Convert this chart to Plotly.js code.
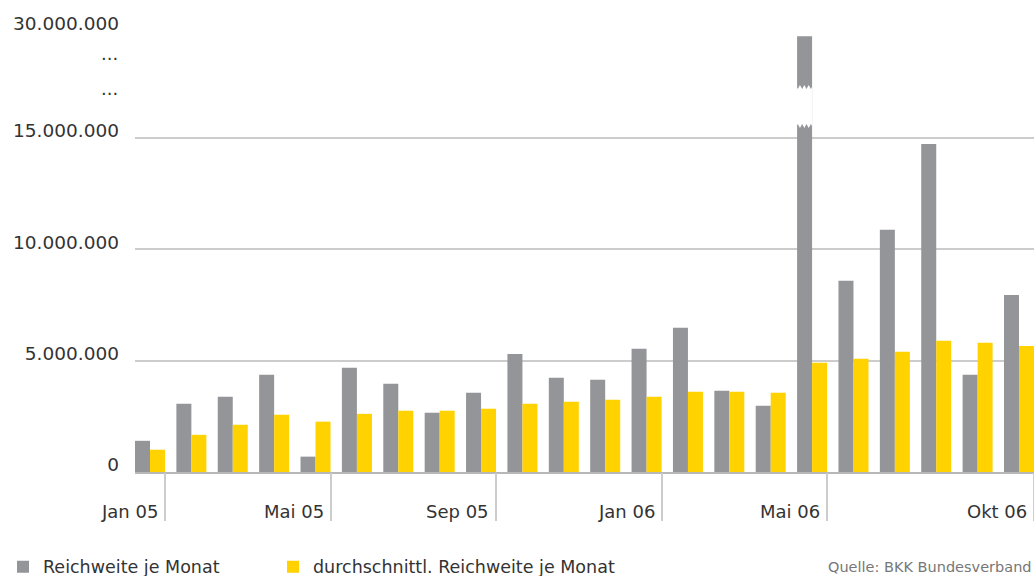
<!DOCTYPE html>
<html>
<head>
<meta charset="utf-8">
<script src="https://cdn.plot.ly/plotly-3.0.1.min.js"></script>
<style>html,body{margin:0;padding:0;background:#fff;}#chart{width:1034px;height:576px;}</style>
</head>
<body>
<div id="chart"></div>
<script>
// ---- data ----
const months = ['Jan 05','Feb 05','Mär 05','Apr 05','Mai 05','Jun 05','Jul 05','Aug 05','Sep 05','Okt 05','Nov 05','Dez 05',
                'Jan 06','Feb 06','Mär 06','Apr 06','Mai 06','Jun 06','Jul 06','Aug 06','Sep 06','Okt 06'];
const reach = [1400000,3060000,3380000,4370000,690000,4680000,3960000,2660000,3560000,5300000,4230000,4140000,
               5530000,6470000,3650000,2970000,29200000,8580000,10870000,14720000,4360000,7950000];
const avgReach = [1000000,1670000,2120000,2570000,2260000,2610000,2750000,2750000,2840000,3060000,3150000,3240000,
                  3380000,3600000,3600000,3560000,4900000,5080000,5400000,5890000,5800000,5660000];
const xTickMonths = ['Jan 05','Mai 05','Sep 05','Jan 06','Mai 06','Okt 06'];
const yTickValues = [0,5000000,10000000,15000000,30000000];
const yTickLabels = ['0','5.000.000','10.000.000','15.000.000','30.000.000'];
const breakLabelValues = [17050000, 18620000];   // positions (display scale) of the "..." marks
const seriesNames = ['Reichweite je Monat','durchschnittl. Reichweite je Monat'];
const sourceText = 'Quelle: BKK Bundesverband';

// ---- broken axis: values above 15 Mio compressed ----
const BREAK = 15000000, TOPV = 30000000, TOPD = 19820000, YMAX = 19840000;
function disp(v){ return v <= BREAK ? v : BREAK + (v - BREAK) * (TOPD - BREAK) / (TOPV - BREAK); }

const GW = 0.725;           // group width in category units
const H = GW / 2;
const FONT = 'DejaVu Sans';
const TXT = '#333333';

const traces = [
  {type:'bar', name:seriesNames[0], x:months, y:reach.map(disp), customdata:reach,
   marker:{color:'#939598'}, hoverinfo:'skip', legend:'legend'},
  {type:'bar', name:seriesNames[1], x:months, y:avgReach.map(disp), customdata:avgReach,
   marker:{color:'#FFD200'}, hoverinfo:'skip', legend:'legend2'}
];

const tickPos = xTickMonths.map(m => months.indexOf(m) + H);

// break marker on the broken bar
const bi = reach.findIndex(v => v > BREAK);
const b0 = 15530000, b1 = 17280000, amp = 90000;
const xl = bi - H - 0.01, xr = bi - 0.003;
let p = 'M' + xl + ',' + b0;
const n = 7;
for (let k = 1; k <= n; k++) {
  const xx = xl + (xr - xl) * k / n;
  p += ' L' + (xx - (xr - xl) / (2*n)) + ',' + (b0 + (k % 2 ? amp : -amp)) + ' L' + xx + ',' + b0;
}
p += ' L' + xr + ',' + b1;
for (let k = n - 1; k >= 0; k--) {
  const xx = xl + (xr - xl) * k / n;
  p += ' L' + (xx + (xr - xl) / (2*n)) + ',' + (b1 + (k % 2 ? amp : -amp)) + ' L' + xx + ',' + b1;
}
p += ' Z';

const annotations = xTickMonths.map((m, i) => ({
  xref:'x2', yref:'paper', x:tickPos[i], y:0, xanchor:'right', yanchor:'top',
  xshift:-5, yshift:-27, text:m, showarrow:false, font:{family:FONT, size:18, color:TXT}
}));
breakLabelValues.forEach(v => annotations.push({
  xref:'paper', yref:'y', x:0, y:v, xanchor:'right', yanchor:'middle', xshift:-15, yshift:4,
  text:'...', showarrow:false, font:{family:FONT, size:18, color:TXT}
}));
annotations.push({xref:'paper', yref:'paper', x:1, y:-0.214, xanchor:'right', yanchor:'middle',
  text:sourceText, showarrow:false, font:{family:FONT, size:14.5, color:'#777777'}});

const legendBase = {orientation:'h', xref:'container', yref:'container', y:0.016, xanchor:'left', yanchor:'middle',
          font:{family:FONT, size:17.5, color:TXT}, bgcolor:'rgba(0,0,0,0)'};

const layout = {
  width:1034, height:576,
  margin:{l:135, r:0, t:30, b:104},
  paper_bgcolor:'#fff', plot_bgcolor:'#fff',
  barmode:'group', bargap:1 - GW, bargroupgap:0,
  font:{family:FONT, color:TXT},
  showlegend:true,
  legend:Object.assign({}, legendBase, {x:3/1034}),
  legend2:Object.assign({}, legendBase, {x:273/1034}),
  xaxis:{type:'category', range:[-H, months.length - 1 + H], showticklabels:false, ticks:'',
         showgrid:false, zeroline:false, showline:true, linecolor:'#b8b8b8', linewidth:2},
  xaxis2:{overlaying:'x', anchor:'y', side:'bottom', range:[-H, months.length - 1 + H],
          tickmode:'array', tickvals:tickPos, ticks:'outside', ticklen:48, tickwidth:2, tickcolor:'#cccccc',
          showticklabels:false, showgrid:false, zeroline:false, showline:false},
  yaxis:{range:[0, YMAX], tickmode:'array', tickvals:yTickValues.map(disp), ticktext:yTickLabels,
         showgrid:true, gridcolor:'#cccccc', gridwidth:2, zeroline:false, ticks:'',
         ticklabelstandoff:15, ticklabelshift:-7, tickfont:{family:FONT, size:18.5, color:TXT}},
  shapes:[{type:'path', xref:'x2', yref:'y', path:p, fillcolor:'#ffffff', line:{width:0}}],
  annotations:annotations
};

Plotly.newPlot('chart', traces, layout, {staticPlot:true, displayModeBar:false});
</script>
</body>
</html>
